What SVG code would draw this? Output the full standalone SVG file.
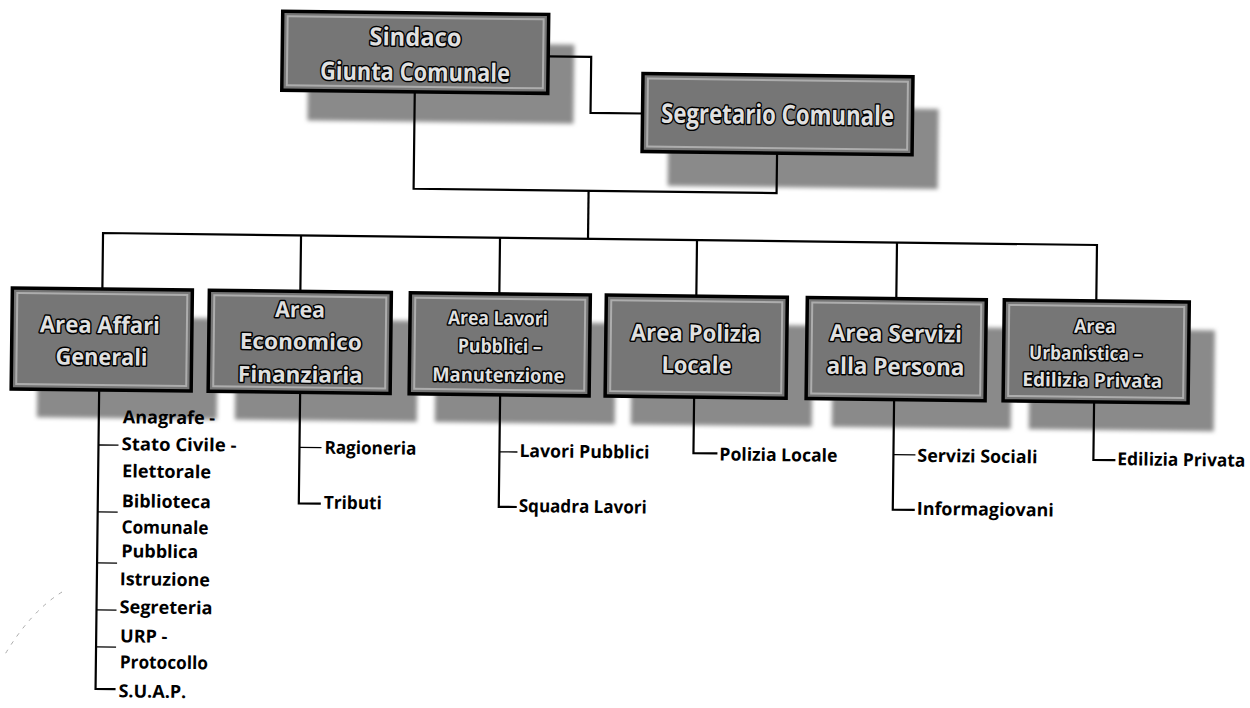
<svg xmlns="http://www.w3.org/2000/svg" width="1250" height="708" viewBox="0 0 1250 708">
<style>
.box{fill:#767676;stroke:#000;stroke-width:3.5}
.inner{fill:none;stroke:#adadad;stroke-width:2}
.sh{fill:#8a8a8a;filter:url(#blur)}
.t{font-family:"Open Sans","Liberation Sans",sans-serif;font-weight:bold;fill:#e0e0e0;stroke:#000;stroke-width:3;paint-order:stroke;text-anchor:middle;stroke-linejoin:round}
.s{font-family:"Open Sans","Liberation Sans",sans-serif;font-weight:bold;font-size:18px;fill:#000}
.c{fill:none;stroke:#000;stroke-width:2.2}
.k{fill:none;stroke:#000;stroke-width:1.3}
</style>
<defs>
<filter id="blur" x="-10%" y="-10%" width="120%" height="120%"><feGaussianBlur stdDeviation="2"/></filter>
</defs>
<rect width="1250" height="708" fill="#fff"/>
<path d="M62 592 Q30 612 4 656" fill="none" stroke="#aaa" stroke-width="1" stroke-dasharray="4 6"/>
<g transform="rotate(0.69 600 240)">
<g id="sindaco">
<rect class="sh" x="306" y="45" width="266" height="79"/>
<rect class="box" x="280" y="15" width="266" height="79"/>
<rect class="inner" x="285" y="20" width="256" height="69"/>
<text class="t" x="413" y="48" font-size="25" textLength="92" lengthAdjust="spacingAndGlyphs">Sindaco</text>
<text class="t" x="413" y="83" font-size="25" textLength="190" lengthAdjust="spacingAndGlyphs">Giunta Comunale</text>
</g>
<g id="segretario">
<rect class="sh" x="667" y="105" width="270" height="80"/>
<rect class="box" x="641" y="73" width="270" height="78"/>
<rect class="inner" x="646" y="78" width="260" height="68"/>
<text class="t" x="776" y="122" font-size="27" textLength="233" lengthAdjust="spacingAndGlyphs">Segretario Comunale</text>
</g>
<g id="affari">
<rect class="sh" x="39" y="323" width="180" height="101"/>
<rect class="box" x="13" y="295" width="180" height="101"/>
<rect class="inner" x="18" y="300" width="170" height="91"/>
<text class="t" x="101" y="339" font-size="23" textLength="120" lengthAdjust="spacingAndGlyphs">Area Affari</text>
<text class="t" x="103" y="371" font-size="23" textLength="92" lengthAdjust="spacingAndGlyphs">Generali</text>
</g>
<g id="economico">
<rect class="sh" x="237" y="323" width="182" height="101"/>
<rect class="box" x="210" y="295" width="182" height="101"/>
<rect class="inner" x="215" y="300" width="172" height="91"/>
<text class="t" x="301" y="321" font-size="22" textLength="50" lengthAdjust="spacingAndGlyphs">Area</text>
<text class="t" x="302" y="353" font-size="22" textLength="122" lengthAdjust="spacingAndGlyphs">Economico</text>
<text class="t" x="302" y="386" font-size="22" textLength="125" lengthAdjust="spacingAndGlyphs">Finanziaria</text>
</g>
<g id="lavori">
<rect class="sh" x="437" y="323" width="180" height="101"/>
<rect class="box" x="411" y="295" width="180" height="101"/>
<rect class="inner" x="416" y="300" width="170" height="91"/>
<text class="t" x="499" y="326" font-size="19" textLength="100" lengthAdjust="spacingAndGlyphs">Area Lavori</text>
<text class="t" x="501" y="354" font-size="19" textLength="84" lengthAdjust="spacingAndGlyphs">Pubblici –</text>
<text class="t" x="500" y="383" font-size="19" textLength="132" lengthAdjust="spacingAndGlyphs">Manutenzione</text>
</g>
<g id="polizia">
<rect class="sh" x="633" y="323" width="181" height="101"/>
<rect class="box" x="607" y="295" width="181" height="101"/>
<rect class="inner" x="612" y="300" width="171" height="91"/>
<text class="t" x="697" y="340" font-size="23" textLength="130" lengthAdjust="spacingAndGlyphs">Area Polizia</text>
<text class="t" x="698" y="372" font-size="23" textLength="70" lengthAdjust="spacingAndGlyphs">Locale</text>
</g>
<g id="servizi">
<rect class="sh" x="834" y="323" width="179" height="101"/>
<rect class="box" x="808" y="295" width="179" height="101"/>
<rect class="inner" x="813" y="300" width="169" height="91"/>
<text class="t" x="897" y="338" font-size="23" textLength="132" lengthAdjust="spacingAndGlyphs">Area Servizi</text>
<text class="t" x="897" y="371" font-size="23" textLength="138" lengthAdjust="spacingAndGlyphs">alla Persona</text>
</g>
<g id="urbanistica">
<rect class="sh" x="1031" y="323" width="185" height="101"/>
<rect class="box" x="1005" y="295" width="185" height="101"/>
<rect class="inner" x="1010" y="300" width="175" height="91"/>
<text class="t" x="1096" y="327" font-size="19" textLength="42" lengthAdjust="spacingAndGlyphs">Area</text>
<text class="t" x="1087" y="354" font-size="19" textLength="113" lengthAdjust="spacingAndGlyphs">Urbanistica –</text>
<text class="t" x="1094" y="381" font-size="19" textLength="140" lengthAdjust="spacingAndGlyphs">Edilizia Privata</text>
</g>
<g id="connectors">
<path class="c" d="M546 57 H589 V113 H641"/>
<path class="c" d="M413 94 V191 H776 V151"/>
<path class="c" d="M588 191 V239"/>
<path class="c" d="M103 295 V239 H1097 V295"/>
<path class="c" d="M301 239 V295 M500 239 V295 M697 239 V295 M897 239 V295"/>
<path class="c" d="M101 396 V695 H121"/>
<path class="k" d="M101 451 H121 M101 518 H121 M101 569 H121 M101 616 H121 M101 653 H121"/>
<path class="c" d="M302 396 V507 H324"/>
<path class="k" d="M302 451 H324"/>
<path class="c" d="M502 396 V508 H520"/>
<path class="k" d="M502 453 H520"/>
<path class="c" d="M696 396 V452 H720"/>
<path class="c" d="M896 396 V506 H918"/>
<path class="k" d="M896 451 H918"/>
<path class="c" d="M1096 396 V454 H1118"/>
</g>
<g id="subitems">
<text class="s" x="125" y="429">Anagrafe -</text>
<text class="s" x="124" y="456" textLength="115" lengthAdjust="spacingAndGlyphs">Stato Civile -</text>
<text class="s" x="125" y="483" textLength="89" lengthAdjust="spacingAndGlyphs">Elettorale</text>
<text class="s" x="125" y="513" textLength="89" lengthAdjust="spacingAndGlyphs">Biblioteca</text>
<text class="s" x="125" y="539" textLength="87" lengthAdjust="spacingAndGlyphs">Comunale</text>
<text class="s" x="125" y="563" textLength="77" lengthAdjust="spacingAndGlyphs">Pubblica</text>
<text class="s" x="124" y="591" textLength="90" lengthAdjust="spacingAndGlyphs">Istruzione</text>
<text class="s" x="124" y="619" textLength="93" lengthAdjust="spacingAndGlyphs">Segreteria</text>
<text class="s" x="125" y="648">URP -</text>
<text class="s" x="125" y="674" textLength="88" lengthAdjust="spacingAndGlyphs">Protocollo</text>
<text class="s" x="124" y="703">S.U.A.P.</text>
<text class="s" x="327" y="457" textLength="92" lengthAdjust="spacingAndGlyphs">Ragioneria</text>
<text class="s" x="327" y="512" textLength="58" lengthAdjust="spacingAndGlyphs">Tributi</text>
<text class="s" x="522" y="458" textLength="130" lengthAdjust="spacingAndGlyphs">Lavori Pubblici</text>
<text class="s" x="522" y="513" textLength="128" lengthAdjust="spacingAndGlyphs">Squadra Lavori</text>
<text class="s" x="722" y="459" textLength="118" lengthAdjust="spacingAndGlyphs">Polizia Locale</text>
<text class="s" x="920" y="458" textLength="120" lengthAdjust="spacingAndGlyphs">Servizi Sociali</text>
<text class="s" x="920" y="511" textLength="137" lengthAdjust="spacingAndGlyphs">Informagiovani</text>
<text class="s" x="1120" y="459" textLength="128" lengthAdjust="spacingAndGlyphs">Edilizia Privata</text>
</g>
</g>
</svg>
